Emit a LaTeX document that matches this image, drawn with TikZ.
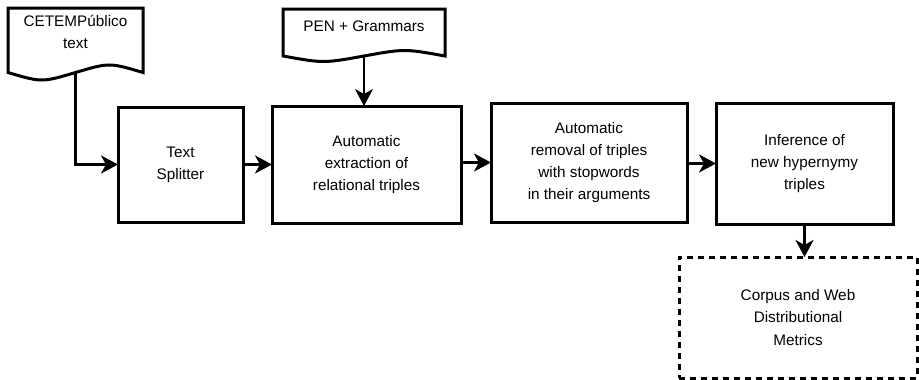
\documentclass[tikz,border=0pt]{standalone}
\usepackage{fontspec}
\setmainfont{Liberation Sans}
\usetikzlibrary{arrows.meta}
\begin{document}
\begin{tikzpicture}[x=1pt,y=-1pt,
  txt/.style={font=\fontsize{15.3}{22.3}\selectfont, align=center, inner sep=0pt},
  procbox/.style={draw, line width=3pt, outer sep=0pt, txt},
  metricbox/.style={draw, line width=3pt, outer sep=0pt, dash pattern=on 6pt off 5pt, txt},
  docshape/.style={draw, line width=3pt, line join=miter},
  flow/.style={line width=2.5pt, -{Stealth[length=17pt,width=18pt,inset=5pt]}}
]
\useasboundingbox (0,0) rectangle (919,380);

% documents
\draw[docshape] (8,8) -- (143,8) -- (143,72.5)
  .. controls (109.25,62.5) .. (75.5,72.5)
  .. controls (41.75,82.5) .. (8,72.5) -- cycle;
\coordinate (cetemb) at (75.5,72.5);
\node[txt] (cetem) at (75.5,32) {CETEMPúblico\\text};

\draw[docshape] (283,9) -- (445,9) -- (445,56)
  .. controls (404.5,48.7) .. (364,56)
  .. controls (323.5,63.3) .. (283,56) -- cycle;
\coordinate (penb) at (364,56);
\node[txt] (pen) at (364,26) {PEN + Grammars};

% process boxes
\node[procbox, minimum width=125pt, minimum height=115pt] (split) at (180.5,164.5) {Text\\Splitter};
\node[procbox, minimum width=189pt, minimum height=117pt] (extract) at (366.5,164.5) {Automatic\\extraction of\\relational triples};
\node[procbox, minimum width=196pt, minimum height=119pt] (removal) at (589,162.5) {Automatic\\removal of triples\\with stopwords\\in their arguments};
\node[procbox, minimum width=177pt, minimum height=121pt] (infer) at (804.5,163.5) {Inference of\\new hypernymy\\triples};
\node[metricbox, minimum width=238pt, minimum height=121pt] (metrics) at (798,317.5) {Corpus and Web\\Distributional\\Metrics};

% connectors
\draw[flow] (cetemb) |- (split.west);
\draw[flow] (penb) -- (penb |- extract.north);
\draw[flow] (split.east) -- (extract.west);
\draw[flow] (extract.east |- removal.west) -- (removal.west);
\draw[flow] (removal.east |- infer.west) -- (infer.west);
\draw[flow] (infer.south) -- (infer.south |- metrics.north);
\end{tikzpicture}
\end{document}
